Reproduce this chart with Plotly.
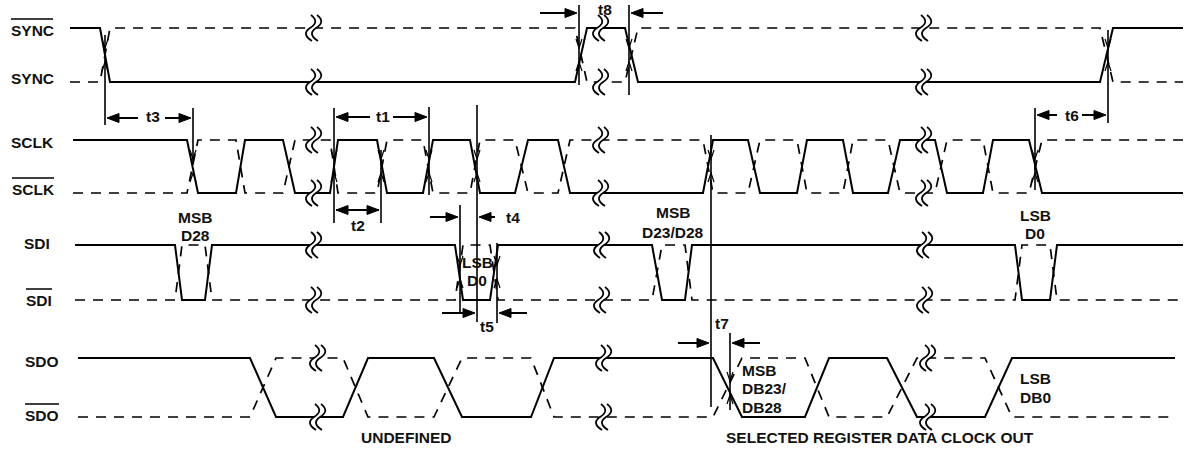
import plotly.graph_objects as go

# ---------------- data ----------------
# Row levels (upper line y, lower line y) in diagram units (y grows downward)
ROW_NAMES = ["SYNC", "SCLK", "SDI", "SDO"]
ROW_HIGH = [28, 140, 245, 358]
ROW_LOW = [82, 193, 300, 417]

# Waveform vertices: time position and state (1 = upper line, 0 = lower line)
SYNC_X = [70, 100, 110, 575, 587, 625, 638, 1100, 1113, 1183]
SYNC_S = [1, 1, 0, 0, 1, 1, 0, 0, 1, 1]

SCLK_X = [73, 187, 198, 236, 245, 283, 295, 330, 338, 377, 387, 423, 433, 470, 480,
          515, 528, 558, 570, 703, 713, 748, 760, 797, 807, 843, 853, 888, 900,
          935, 947, 983, 993, 1029, 1042, 1183]
SCLK_S = [1, 1, 0, 0, 1, 1, 0, 0, 1, 1, 0, 0, 1, 1, 0,
          0, 1, 1, 0, 0, 1, 1, 0, 0, 1, 1, 0, 0, 1,
          1, 0, 0, 1, 1, 0, 0]

SDI_X = [75, 175, 182, 205, 212, 455, 463, 490, 498, 652, 662, 685, 692,
         1015, 1022, 1050, 1057, 1183]
SDI_S = [1, 1, 0, 0, 1, 1, 0, 0, 1, 1, 0, 0, 1, 1, 0, 0, 1, 1]

SDO_X = [78, 250, 276, 343, 368, 434, 462, 531, 554, 713, 742, 805, 829,
         887, 917, 985, 1012, 1175]
SDO_S = [1, 1, 0, 0, 1, 1, 0, 0, 1, 1, 0, 0, 1, 1, 0, 0, 1, 1]

WAVE_X = [SYNC_X, SCLK_X, SDI_X, SDO_X]
WAVE_S = [SYNC_S, SCLK_S, SDI_S, SDO_S]

# Time-break marks per row
BREAKS = [[313, 600, 923], [313, 600, 923], [313, 601, 924], [317, 603, 927]]

# Timing reference lines (x, y top, y bottom)
VLINE_X = [105, 193, 334, 381, 429, 460, 477, 497, 579, 629, 711, 730, 1035, 1108]
VLINE_Y0 = [35, 108, 108, 150, 107, 205, 105, 243, 5, 5, 135, 333, 108, 30]
VLINE_Y1 = [125, 165, 223, 223, 195, 312, 322, 323, 85, 95, 407, 410, 190, 123]

# Edge crossing points marked on reference lines
CROSS_X = [105, 193, 334, 381, 429, 477, 711, 1035, 460, 497, 730, 579, 629, 1108]
CROSS_Y = [55, 166, 166, 166, 166, 166, 166, 166, 272, 272, 388, 55, 55, 55]

# Dimension arrows: tip x, y, tail x
ARROW_TIP = [107, 191, 336, 427, 336, 379, 577, 631, 458, 479, 475, 499, 709, 732, 1037, 1106]
ARROW_Y = [118, 118, 117, 117, 210, 210, 13, 13, 217, 217, 313, 313, 343, 343, 115, 115]
ARROW_TAIL = [138, 165, 370, 393, 379, 336, 540, 663, 430, 495, 442, 527, 678, 760, 1057, 1082]

# Timing labels
T_LABELS = ["t3", "t1", "t2", "t8", "t4", "t5", "t7", "t6"]
T_X = [153, 383, 358, 605, 513, 487, 722, 1072]
T_Y = [116, 116, 225, 9, 217, 326, 323, 115]

# Signal name labels
SIG_TEXT = ["SYNC", "SYNC", "SCLK", "SCLK", "SDI", "SDI", "SDO", "SDO"]
SIG_X = [32, 32, 32, 33, 37, 39, 42, 42]
SIG_Y = [30, 78, 142, 189, 243, 300, 361, 415]
SIG_BAR = [True, False, False, True, False, True, False, True]
SIG_HALF = [21, 21, 21, 21, 13, 13, 17, 17]

# Bit annotations
BIT_TEXT = ["MSB", "D28", "LSB", "D0", "MSB", "D23/D28", "LSB", "D0"]
BIT_X = [195, 195, 477, 477, 673, 673, 1035, 1035]
BIT_Y = [217, 235, 262, 280, 212, 232, 215, 233]

SDO_TEXT = ["MSB", "DB23/", "DB28", "LSB", "DB0"]
SDO_TX = [740, 740, 740, 1018, 1018]
SDO_TY = [370, 388, 407, 378, 397]

FOOT_TEXT = ["UNDEFINED", "SELECTED REGISTER DATA CLOCK OUT"]
FOOT_X = [406, 880]
FOOT_Y = [437, 437]

# ---------------- figure ----------------
FONT = "Liberation Sans, Arial, sans-serif"
fig = go.Figure()
shapes = []
annotations = []

for i, name in enumerate(ROW_NAMES):
    hi, lo = ROW_HIGH[i], ROW_LOW[i]
    xs, ss = WAVE_X[i], WAVE_S[i]
    fig.add_trace(go.Scatter(
        x=xs, y=[lo if s else hi for s in ss], mode="lines",
        line=dict(color="black", width=1.7, dash="10px,8px"),
        hoverinfo="skip", showlegend=False))
    fig.add_trace(go.Scatter(
        x=xs, y=[hi if s else lo for s in ss], mode="lines",
        line=dict(color="black", width=2),
        hoverinfo="skip", showlegend=False))
    # break marks
    for bx in BREAKS[i]:
        for cy in (hi, lo):
            shapes.append(dict(type="rect", xref="x", yref="y",
                               x0=bx - 3, x1=bx + 3, y0=cy - 3, y1=cy + 3,
                               fillcolor="white", line=dict(width=0)))
            for off in (-3, 3):
                cx = bx + off
                p = (f"M {cx + 1},{cy - 13} Q {cx + 10},{cy - 6} {cx},{cy} "
                     f"Q {cx - 9},{cy + 6} {cx + 2},{cy + 13}")
                shapes.append(dict(type="path", xref="x", yref="y", path=p,
                                   line=dict(color="black", width=1.8)))

for x, y0, y1 in zip(VLINE_X, VLINE_Y0, VLINE_Y1):
    shapes.append(dict(type="line", xref="x", yref="y", x0=x, x1=x, y0=y0, y1=y1,
                       line=dict(color="black", width=1.6)))

# small chevrons pointing at crossing points
for x, y in zip(CROSS_X, CROSS_Y):
    for d in (-1, 1):
        p = f"M {x - 3},{y + d * 16} L {x},{y + d * 7} L {x + 3},{y + d * 16}"
        shapes.append(dict(type="path", xref="x", yref="y", path=p,
                           line=dict(color="black", width=1.2)))

HL, HH = 12, 4.5
for tip, y, tail in zip(ARROW_TIP, ARROW_Y, ARROW_TAIL):
    d = 1 if tail < tip else -1
    base = tip - d * HL
    shapes.append(dict(type="line", xref="x", yref="y", x0=tail, x1=base, y0=y, y1=y,
                       line=dict(color="black", width=2)))
    shapes.append(dict(type="path", xref="x", yref="y",
                       path=f"M {tip},{y} L {base},{y - HH} L {base},{y + HH} Z",
                       fillcolor="black", line=dict(color="black", width=1)))


def txt(t, x, y, anchor="center", size=15.5):
    annotations.append(dict(text=f"<b>{t}</b>", x=x, y=y, xref="x", yref="y",
                            showarrow=False, xanchor=anchor, yanchor="middle",
                            font=dict(family=FONT, size=size, color="#111")))


for t, x, y in zip(T_LABELS, T_X, T_Y):
    txt(t, x, y)
for t, x, y, bar, h in zip(SIG_TEXT, SIG_X, SIG_Y, SIG_BAR, SIG_HALF):
    txt(t, x, y)
    if bar:
        shapes.append(dict(type="line", xref="x", yref="y", x0=x - h, x1=x + h,
                           y0=y - 11, y1=y - 11, line=dict(color="black", width=1.5)))
for t, x, y in zip(BIT_TEXT, BIT_X, BIT_Y):
    txt(t, x, y)
for t, x, y in zip(SDO_TEXT, SDO_TX, SDO_TY):
    txt(t, x, y, anchor="left")
for t, x, y in zip(FOOT_TEXT, FOOT_X, FOOT_Y):
    txt(t, x, y)

fig.update_layout(
    width=1185, height=450, margin=dict(l=0, r=0, t=0, b=0),
    paper_bgcolor="white", plot_bgcolor="white",
    xaxis=dict(range=[0, 1185], visible=False, fixedrange=True),
    yaxis=dict(range=[450, 0], visible=False, fixedrange=True),
    shapes=shapes, annotations=annotations,
)
fig.write_html("out.html", config={"displayModeBar": False},
               post_script="document.body.style.margin='0';document.body.style.overflow='hidden';")
